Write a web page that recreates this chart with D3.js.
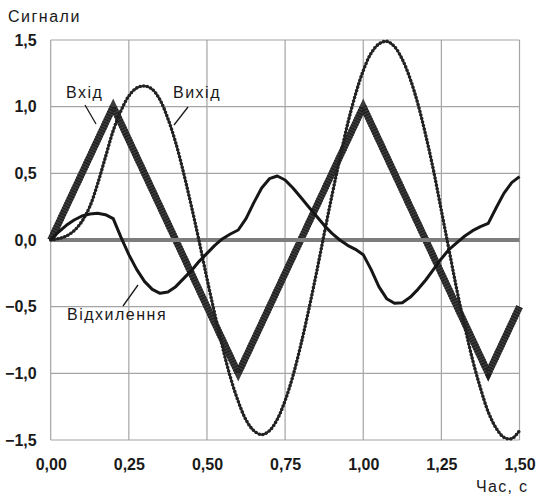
<!DOCTYPE html>
<html>
<head>
<meta charset="utf-8">
<script src="https://cdn.jsdelivr.net/npm/d3@7"></script>
<style>
  body { margin: 0; background: #fff; }
  text { font-family: "Liberation Sans", Arial, sans-serif; fill: #1a1a1a; }
</style>
</head>
<body>
<svg id="chart" width="539" height="497"></svg>
<script>
// time grid for the sampled curves, step 0.025 s
const time = d3.range(61).map(i => +(i * 0.025).toFixed(3))

// input (triangle) break points
const inputT = [0, 0.2, 0.6, 1.0, 1.4, 1.5]
const inputV = [0, 1, -1, 1, -1, -0.5]

// output
const outputV = [
  0.00, 0.01, 0.03, 0.07, 0.14, 0.25, 0.42, 0.62, 0.82, 0.97,
  1.08, 1.14, 1.155, 1.13, 1.05, 0.91, 0.73, 0.505, 0.255, -0.01,
  -0.29, -0.555, -0.805, -1.03, -1.21, -1.35, -1.43, -1.46, -1.43, -1.345,
  -1.205, -1.02, -0.79, -0.53, -0.25, 0.045, 0.335, 0.61, 0.87, 1.09,
  1.27, 1.40, 1.47, 1.49, 1.45, 1.355, 1.21, 1.02, 0.785, 0.52,
  0.22, -0.08, -0.38, -0.65, -0.90, -1.11, -1.29, -1.41, -1.48, -1.49,
  -1.43
]

// deviation
const devV = [
  0.00, 0.06, 0.11, 0.15, 0.18, 0.195, 0.20, 0.19, 0.16, 0.02,
  -0.11, -0.22, -0.31, -0.37, -0.40, -0.39, -0.35, -0.29, -0.23, -0.16,
  -0.10, -0.04, 0.01, 0.045, 0.075, 0.16, 0.28, 0.39, 0.46, 0.48,
  0.45, 0.39, 0.32, 0.25, 0.18, 0.11, 0.05, 0.00, -0.04, -0.07,
  -0.11, -0.22, -0.35, -0.44, -0.475, -0.47, -0.43, -0.37, -0.30, -0.22,
  -0.14, -0.07, -0.02, 0.03, 0.07, 0.10, 0.125, 0.24, 0.35, 0.43,
  0.475
]

const xTicks = [0, 0.25, 0.5, 0.75, 1.0, 1.25, 1.5]
const yTicks = [-1.5, -1, -0.5, 0, 0.5, 1, 1.5]

const svg = d3.select("#chart")
const plot = { left: 50.7, right: 519.5, top: 40, bottom: 440 }

const x = d3.scaleLinear().domain([0, 1.5]).range([plot.left, plot.right])
const y = d3.scaleLinear().domain([-1.5, 1.5]).range([plot.bottom, plot.top])

const fmtX = d => d3.format(".2f")(d).replace(".", ",")
const fmtY = d => d3.format(".1f")(d).replace(".", ",")

// grid
const grid = svg.append("g").attr("stroke", "#a4a4a4").attr("stroke-width", 1.2)
grid.selectAll(".vx").data(xTicks).join("line")
  .attr("x1", d => x(d)).attr("x2", d => x(d))
  .attr("y1", plot.top).attr("y2", plot.bottom)
grid.selectAll(".hy").data(yTicks).join("line")
  .attr("x1", plot.left).attr("x2", plot.right)
  .attr("y1", d => y(d)).attr("y2", d => y(d))

// axes (labels only, the grid makes the frame)
const xAxis = svg.append("g")
  .attr("transform", `translate(0,${plot.bottom + 16})`)
  .call(d3.axisBottom(x).tickValues(xTicks).tickFormat(fmtX).tickSize(0))
const yAxis = svg.append("g")
  .attr("transform", `translate(${plot.left - 11},0)`)
  .call(d3.axisLeft(y).tickValues(yTicks).tickFormat(fmtY).tickSize(0))
;[xAxis, yAxis].forEach(a => {
  a.select(".domain").remove()
  a.selectAll("text")
    .style("font-family", "'Liberation Sans', Arial, sans-serif")
    .style("font-size", "16px")
    .style("font-weight", "bold")
    .attr("fill", "#1a1a1a")
})

const line = d3.line().x(d => x(d[0])).y(d => y(d[1]))

// input: thick beaded band
const inputPts = inputT.map((t, i) => [t, inputV[i]])
svg.append("path").attr("d", line(inputPts))
  .attr("fill", "none").attr("stroke", "#3c3c3c").attr("stroke-width", 7)
svg.append("path").attr("d", line(inputPts))
  .attr("fill", "none").attr("stroke", "#1e1e1e").attr("stroke-width", 7)
  .attr("stroke-dasharray", "1.2,1.6")

// zero line
svg.append("line")
  .attr("x1", x(0)).attr("x2", x(1.5)).attr("y1", y(0)).attr("y2", y(0))
  .attr("stroke", "#7d7d7d").attr("stroke-width", 4)

// output: thin line with dense round markers
const smooth = d3.line().x(d => x(d[0])).y(d => y(d[1])).curve(d3.curveCatmullRom)
const outPts = time.map((t, i) => [t, outputV[i]])
svg.append("path").attr("d", smooth(outPts))
  .attr("fill", "none").attr("stroke", "#2a2a2a").attr("stroke-width", 2)
svg.append("path").attr("d", smooth(outPts))
  .attr("fill", "none").attr("stroke", "#222").attr("stroke-width", 3.6)
  .attr("stroke-linecap", "round").attr("stroke-dasharray", "0,3.6")

// deviation: solid line
const devPts = time.map((t, i) => [t, devV[i]])
svg.append("path").attr("d", line(devPts))
  .attr("fill", "none").attr("stroke", "#161616").attr("stroke-width", 3)
  .attr("stroke-linejoin", "round")

// titles
svg.append("text").attr("x", 8).attr("y", 22)
  .style("font-size", "16px").style("letter-spacing", "1.5px").text("Сигнали")
svg.append("text").attr("x", 476).attr("y", 492)
  .style("font-size", "16px").style("letter-spacing", "1.3px").text("Час, с")

// annotations with leader lines
const notes = [
  { label: "Вхід", tx: 66, ty: 98, l: [[85, 105], [96, 124]] },
  { label: "Вихід", tx: 173, ty: 98, l: [[188, 107], [174, 125]] },
  { label: "Відхилення", tx: 67, ty: 320, l: [[123, 306], [138, 285]] }
]
notes.forEach(n => {
  svg.append("text").attr("x", n.tx).attr("y", n.ty)
    .style("font-size", "16px").style("letter-spacing", "1.5px").text(n.label)
  svg.append("line")
    .attr("x1", n.l[0][0]).attr("y1", n.l[0][1])
    .attr("x2", n.l[1][0]).attr("y2", n.l[1][1])
    .attr("stroke", "#1a1a1a").attr("stroke-width", 1.3)
})
</script>
</body>
</html>
